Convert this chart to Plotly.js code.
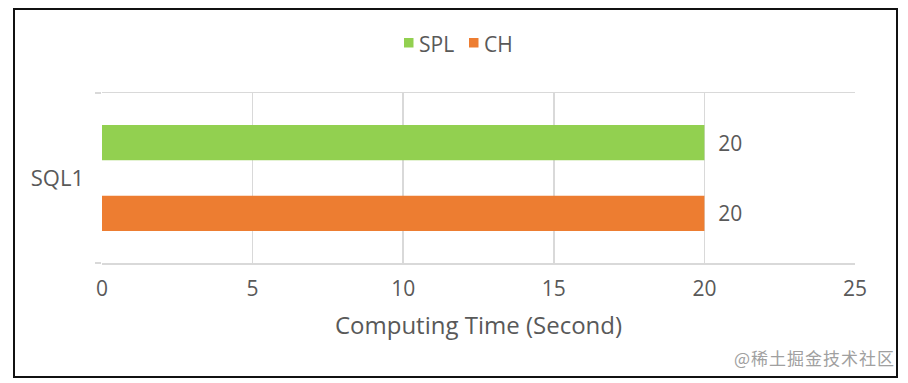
<!DOCTYPE html>
<html>
<head>
<meta charset="utf-8">
<script src="https://cdn.plot.ly/plotly-3.0.1.min.js"></script>
<style>
  html, body { margin: 0; padding: 0; background: #ffffff; }
  #wrap { position: relative; width: 908px; height: 383px; }
  #chart { position: absolute; left: 0; top: 0; width: 908px; height: 383px; }
  #frame { position: absolute; left: 13px; top: 8px; width: 881px; height: 366px;
           border: 2px solid #111; pointer-events: none; }
  #wm { position: absolute; right: 13px; top: 345px; font-family: "Noto Sans CJK SC", sans-serif;
        font-size: 17px; letter-spacing: 1px; color: #a0a0a0; }
</style>
</head>
<body>
<div id="wrap">
  <div id="chart"></div>
  <div id="frame"></div>
  <div id="wm">@稀土掘金技术社区</div>
</div>
<script>
const categories = ["SQL1"];
const seriesNames = ["SPL", "CH"];
const splValues = [20];
const chValues = [20];
const xTicks = [0, 5, 10, 15, 20, 25];

const colors = ["#92D050", "#ED7D31"];
const font = "Open Sans, Noto Sans, sans-serif";
const textColor = "#595959";

const W = 908, H = 383;
const M = { l: 102, r: 53, t: 93, b: 120 };
const pw = W - M.l - M.r, ph = H - M.t - M.b;
const px2x = px => (px - M.l) / pw;
const py2y = py => (H - M.b - py) / ph;

const traces = [splValues, chValues].map((vals, i) => ({
  type: "bar",
  orientation: "h",
  name: seriesNames[i],
  y: categories,
  x: vals,
  marker: { color: colors[i] },
  texttemplate: "\u00a0\u00a0%{x}",
  textposition: "outside",
  textfont: { family: font, size: 21, color: textColor },
  cliponaxis: false,
  showlegend: false,
  hoverinfo: "skip"
}));

// custom legend (compact like the original)
const legendX = [404, 469];
const shapes = seriesNames.map((n, i) => ({
  type: "rect", xref: "paper", yref: "paper",
  x0: px2x(legendX[i]), x1: px2x(legendX[i] + 9.5),
  y0: py2y(47.5), y1: py2y(38),
  fillcolor: colors[i], line: { width: 0 }
}));
const annotations = seriesNames.map((n, i) => ({
  xref: "paper", yref: "paper",
  x: px2x(legendX[i] + 13), y: py2y(44),
  xanchor: "left", yanchor: "middle",
  text: n, showarrow: false,
  font: { family: font, size: 21, color: textColor }
}));

const layout = {
  width: W,
  height: H,
  paper_bgcolor: "#ffffff",
  plot_bgcolor: "#ffffff",
  margin: M,
  barmode: "group",
  bargap: 0.168,
  bargroupgap: 0.5,
  showlegend: false,
  shapes: shapes,
  annotations: annotations,
  xaxis: {
    range: [0, 25],
    tickvals: xTicks,
    ticktext: xTicks.map(String),
    showgrid: true,
    gridcolor: "#d9d9d9",
    gridwidth: 1.5,
    zeroline: false,
    showline: true,
    mirror: true,
    linecolor: "#d9d9d9",
    linewidth: 1.5,
    ticks: "",
    ticklabelstandoff: 6,
    tickfont: { family: font, size: 21, color: textColor },
    title: { text: "Computing Time (Second)", font: { family: font, size: 24, color: textColor }, standoff: 16 }
  },
  yaxis: {
    type: "category",
    autorange: "reversed",
    showgrid: false,
    zeroline: false,
    showline: false,
    ticks: "outside",
    tickson: "boundaries",
    ticklen: 6,
    tickcolor: "#d9d9d9",
    tickwidth: 1.5,
    ticklabelstandoff: 17,
    tickfont: { family: font, size: 22, color: textColor }
  }
};

Plotly.newPlot("chart", traces, layout, { staticPlot: true, displayModeBar: false });
</script>
</body>
</html>
